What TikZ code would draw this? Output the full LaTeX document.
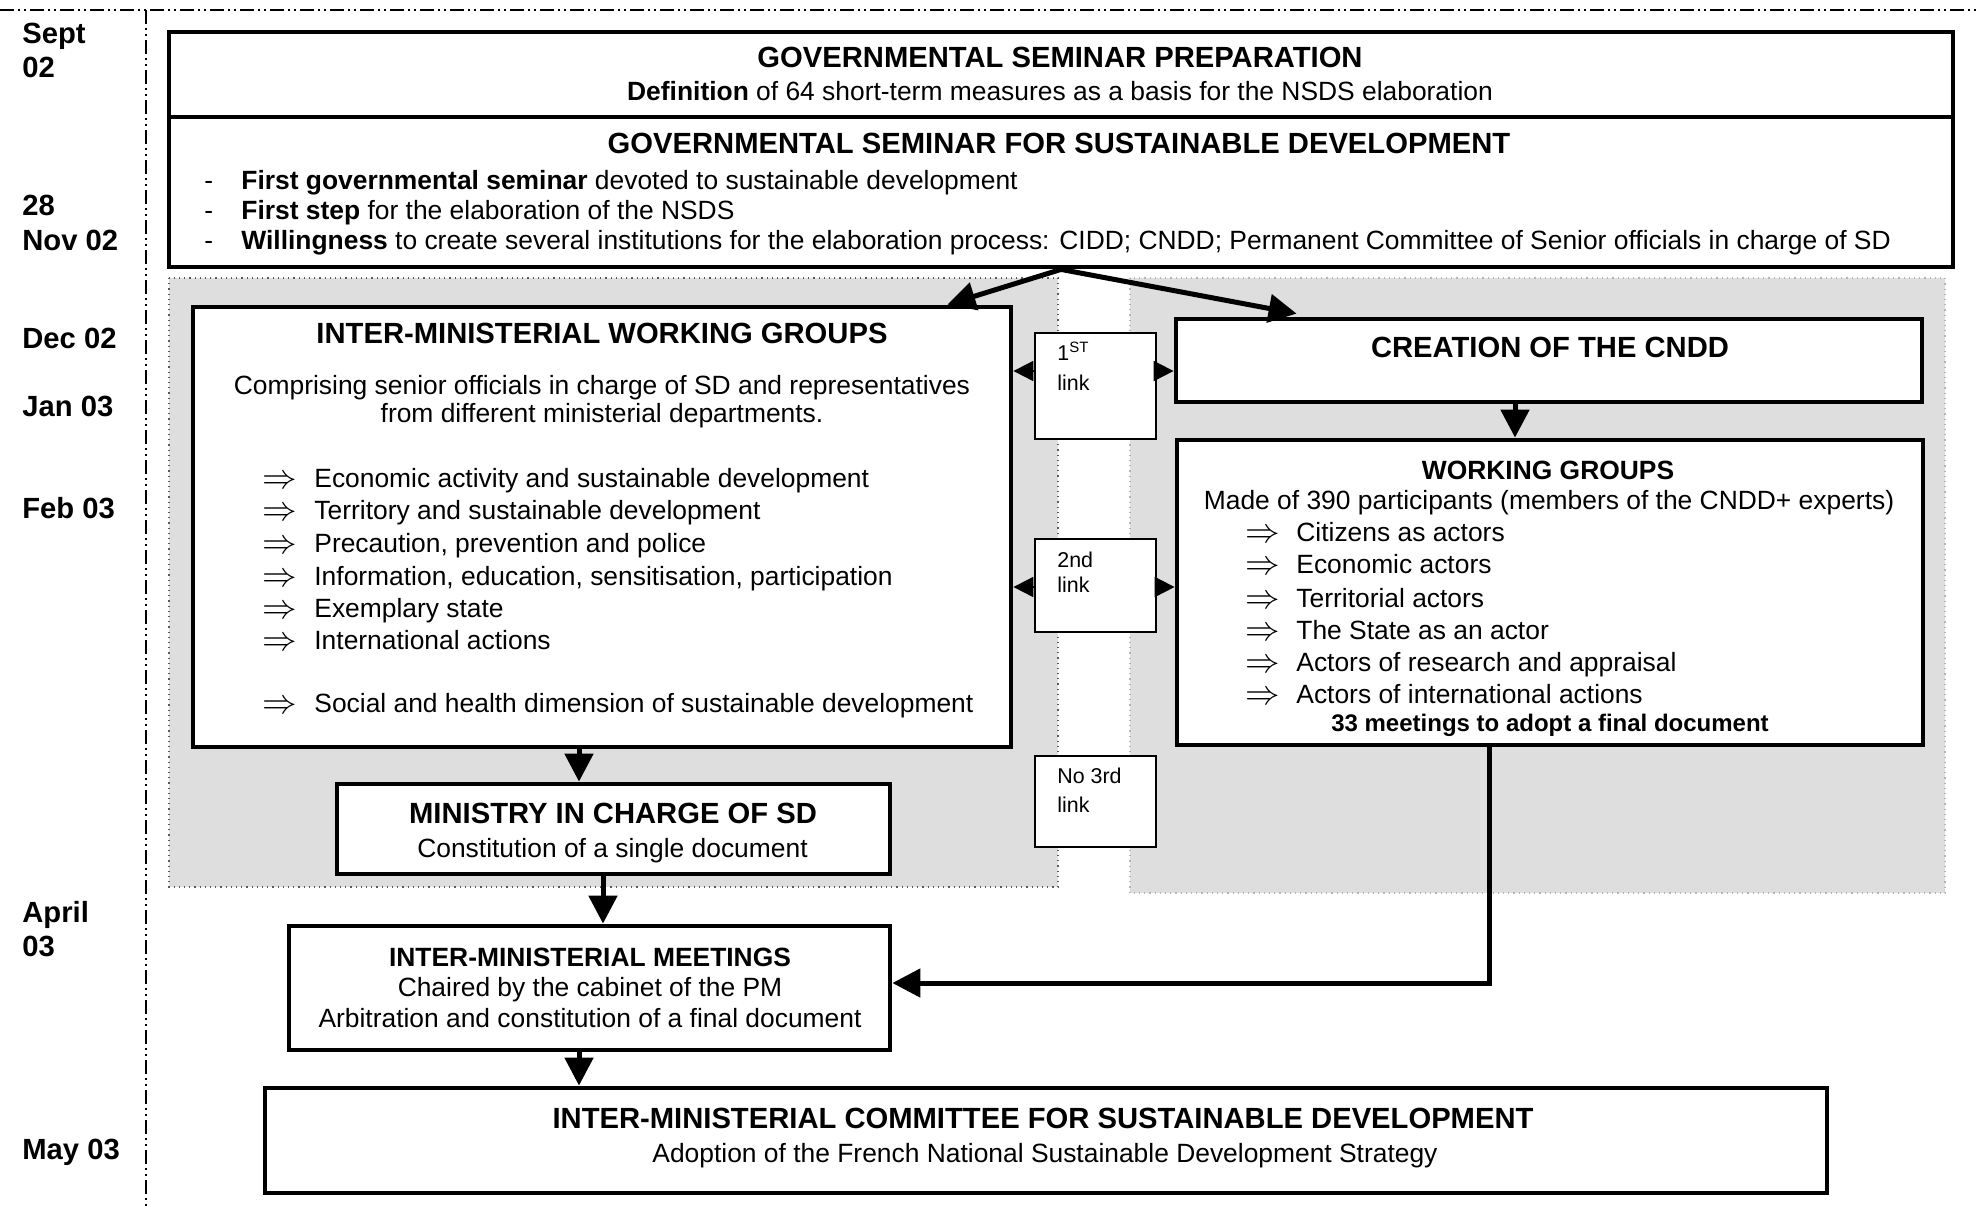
\documentclass[tikz,border=0pt]{standalone}
\usepackage{fontspec}
\setmainfont{Liberation Sans}
\usetikzlibrary{arrows.meta,calc}
\definecolor{bggray}{RGB}{222,222,222}
\definecolor{dotdark}{RGB}{90,90,90}
\definecolor{dotlight}{RGB}{180,180,180}
\newcommand{\myTitle}{\fontsize{14.6}{17}\selectfont\bfseries}
\newcommand{\mySub}{\fontsize{13.2}{15}\selectfont\bfseries}
\newcommand{\myBody}{\fontsize{13.2}{15}\selectfont}
\newcommand{\myArrow}{\fontsize{16}{18}\selectfont}
\newcommand{\mySmall}{\fontsize{10.7}{12}\selectfont}
\newcommand{\myMid}{\fontsize{12}{14}\selectfont\bfseries}
\begin{document}
\begin{tikzpicture}[x=0.5pt,y=-0.5pt,
  box/.style={draw, line width=2.4pt, fill=white, inner sep=0pt},
  linkbox/.style={draw, line width=0.9pt, fill=white, inner sep=0pt},
  arr/.style={line width=2.5pt, -{Triangle[length=14pt,width=14pt]}},
  larr/.style={line width=1pt, -{Triangle[length=10pt,width=10pt]}},
  ttl/.style={font=\myTitle, inner sep=0pt, text height=10.5pt, text depth=0pt},
  sub/.style={font=\mySub, inner sep=0pt, text height=9.5pt, text depth=0pt},
  bod/.style={font=\myBody, inner sep=0pt, text height=9.5pt, text depth=0pt},
  implies/.style={font=\myArrow, inner sep=0pt, anchor=west, text height=8pt, text depth=0pt},
  sml/.style={font=\mySmall, inner sep=0pt, text height=7.7pt, text depth=0pt, anchor=west},
  mid/.style={font=\myMid, inner sep=0pt, text height=8.6pt, text depth=0pt},
  dat/.style={font=\myTitle, inner sep=0pt, text height=10.5pt, text depth=0pt, anchor=west},
  timeline/.style={line width=0.7pt, dash pattern=on 7pt off 2pt on 1pt off 2pt on 1pt off 2pt}
]
\useasboundingbox (0,0) rectangle (1978,1207);
\fill[white] (0,0) rectangle (1978,1207);

% timeline frame
\draw[timeline] (0,10) -- (1978,10);
\draw[timeline] (146,10) -- (146,1207);

% dates
\node[dat] (d1) at (22,33) {Sept};
\node[dat] (d2) at (22,67) {02};
\node[dat] (d3) at (22,205) {28};
\node[dat] (d4) at (22,240) {Nov 02};
\node[dat] (d5) at (22,338) {Dec 02};
\node[dat] (d6) at (22,406) {Jan 03};
\node[dat] (d7) at (22,508) {Feb 03};
\node[dat] (d8) at (22,912) {April};
\node[dat] (d9) at (22,946) {03};
\node[dat] (d10) at (22,1149) {May 03};

% gray panels
\fill[bggray] (169,278) rectangle (1058,887);
\draw[dotdark, line width=0.6pt, dotted] (169,278) rectangle (1058,887);
\fill[bggray] (1130,278) rectangle (1945,893);
\draw[dotlight, line width=0.6pt, dotted] (1130,278) rectangle (1945,893);

% boxes
\node[box, minimum width=892pt, minimum height=42.5pt] (prep) at (1061,74.5) {};
\node[box, minimum width=892pt, minimum height=75pt] (sem) at (1061,192) {};
\node[box, minimum width=409pt, minimum height=220pt] (imwg) at (602,527) {};
\node[linkbox, minimum width=60.5pt, minimum height=53pt] (link1) at (1095.5,386) {};
\node[linkbox, minimum width=60.5pt, minimum height=46.5pt] (link2) at (1095.5,585.5) {};
\node[linkbox, minimum width=60.5pt, minimum height=45.5pt] (link3) at (1095.5,801.5) {};
\node[box, minimum width=373pt, minimum height=41.5pt] (cndd) at (1549,360.5) {};
\node[box, minimum width=373pt, minimum height=152.5pt] (wg) at (1550,592.5) {};
\node[box, minimum width=276.5pt, minimum height=45pt] (min) at (613.5,829) {};
\node[box, minimum width=300.5pt, minimum height=62pt] (imm) at (589.5,988) {};
\node[box, minimum width=781pt, minimum height=52.5pt] (com) at (1046,1140.5) {};

% texts: seminar preparation
\node[ttl] (prept) at (1060,57) {GOVERNMENTAL SEMINAR PREPARATION};
\node[bod] (preps) at (1060,91) {\textbf{Definition} of 64 short-term measures as a basis for the NSDS elaboration};

% seminar
\node[ttl] (semt) at (1059,143) {GOVERNMENTAL SEMINAR FOR SUSTAINABLE DEVELOPMENT};
\node[bod, anchor=west] (semd1) at (204,180) {-};
\node[bod, anchor=west] (semd2) at (204,210) {-};
\node[bod, anchor=west] (semd3) at (204,240) {-};
\node[bod, anchor=west] (semb1) at (241,180) {\textbf{First governmental seminar} devoted to sustainable development};
\node[bod, anchor=west] (semb2) at (241,210) {\textbf{First step} for the elaboration of the NSDS};
\node[bod, anchor=west] (semb3) at (241,240) {\textbf{Willingness} to create several institutions for the elaboration process: CIDD; CNDD; Permanent Committee of Senior officials in charge of SD};

% inter-ministerial working groups
\node[ttl] (imwgt) at (602,333) {INTER-MINISTERIAL WORKING GROUPS};
\node[bod] (imwgc1) at (602,385) {Comprising senior officials in charge of SD and representatives};
\node[bod] (imwgc2) at (602,413) {from different ministerial departments.};
\foreach \i/\yy/\tx in {1/478/Economic activity and sustainable development,
                        2/510/Territory and sustainable development,
                        3/543/{Precaution, prevention and police},
                        4/576/{Information, education, sensitisation, participation},
                        5/608/Exemplary state,
                        6/640/International actions,
                        7/703/Social and health dimension of sustainable development}{
  \node[implies] (imwga\i) at (262,\yy+2) {$\Rightarrow$};
  \node[bod, anchor=west] (imwgi\i) at (314,\yy) {\tx};
}

% links
\node[sml] (l1a) at (1057,353) {1\textsuperscript{ST}};
\node[sml] (l1b) at (1057,383) {link};
\node[sml] (l2a) at (1057,560) {2nd};
\node[sml] (l2b) at (1057,585) {link};
\node[sml] (l3a) at (1057,776) {No 3rd};
\node[sml] (l3b) at (1057,805) {link};

% CNDD
\node[ttl] (cnddt) at (1550,347) {CREATION OF THE CNDD};

% working groups
\node[sub] (wgt) at (1548,470) {WORKING GROUPS};
\node[bod] (wgm) at (1549,500) {Made of 390 participants (members of the CNDD+ experts)};
\foreach \i/\yy/\tx in {1/532/Citizens as actors,
                        2/564/Economic actors,
                        3/598/Territorial actors,
                        4/630/The State as an actor,
                        5/662/Actors of research and appraisal,
                        6/694/Actors of international actions}{
  \node[implies] (wga\i) at (1245,\yy+2) {$\Rightarrow$};
  \node[bod, anchor=west] (wgi\i) at (1296,\yy) {\tx};
}
\node[mid] (wgf) at (1550,723) {33 meetings to adopt a final document};

% ministry
\node[ttl] (mint) at (613,813) {MINISTRY IN CHARGE OF SD};
\node[bod] (mins) at (612.5,848) {Constitution of a single document};

% inter-ministerial meetings
\node[sub] (immt) at (590,957) {INTER-MINISTERIAL MEETINGS};
\node[bod] (imm1) at (590,987) {Chaired by the cabinet of the PM};
\node[bod] (imm2) at (590,1018) {Arbitration and constitution of a final document};

% committee
\node[ttl] (comt) at (1043,1118) {INTER-MINISTERIAL COMMITTEE FOR SUSTAINABLE DEVELOPMENT};
\node[bod] (coms) at (1045,1153) {Adoption of the French National Sustainable Development Strategy};

% helper coordinates
\coordinate (xa) at (579,0);
\coordinate (xb) at (603,0);
\coordinate (xc) at (1515,0);
\coordinate (xd) at (1489,0);
\coordinate (ya) at (0,371);
\coordinate (yb) at (0,983);
\coordinate (yc) at (0,587);

% connectors
\draw[arr] (sem.south) -- ($(imwg.north east)+(-66,0)$);
\draw[arr] (sem.south) -- ($(cndd.north west)+(123,-3)$);
\draw[arr] (imwg.south -| xa) -- (min.north -| xa);
\draw[arr] (min.south -| xb) -- (imm.north -| xb);
\draw[arr] (imm.south -| xa) -- (com.north -| xa);
\draw[arr] (cndd.south -| xc) -- (wg.north -| xc);
\draw[arr] (wg.south -| xd) |- (imm.east |- yb);
\draw[larr] (link1.west |- ya) -- (imwg.east |- ya);
\draw[larr] (link1.east |- ya) -- (cndd.west |- ya);
\draw[larr] (link2.west |- yc) -- (imwg.east |- yc);
\draw[larr] (link2.east |- yc) -- (wg.west |- yc);
\end{tikzpicture}
\end{document}
